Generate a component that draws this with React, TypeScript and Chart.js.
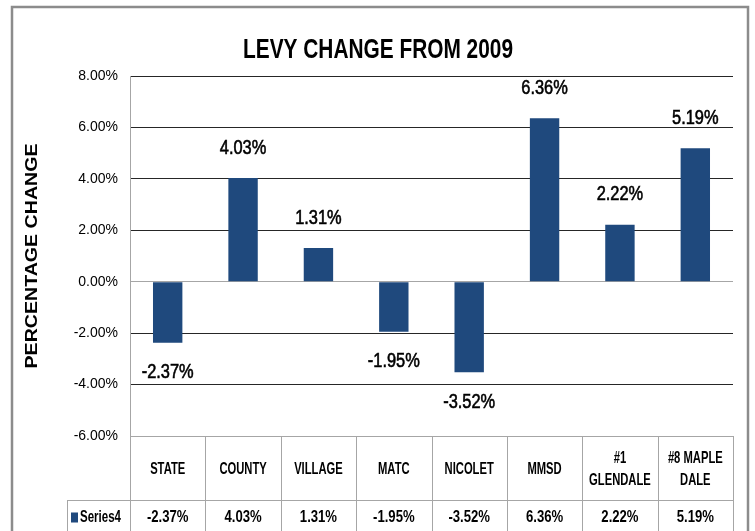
import React, { useEffect, useRef } from "react";
import { Chart, registerables } from "chart.js";

Chart.register(...registerables);

const chartTitle = "LEVY CHANGE FROM 2009";
const yAxisTitle = "PERCENTAGE CHANGE";
const seriesName = "Series4";
const categories: string[][] = [
  ["STATE"],
  ["COUNTY"],
  ["VILLAGE"],
  ["MATC"],
  ["NICOLET"],
  ["MMSD"],
  ["#1", "GLENDALE"],
  ["#8 MAPLE", "DALE"],
];
const values = [-2.37, 4.03, 1.31, -1.95, -3.52, 6.36, 2.22, 5.19];
const yTicks = [8, 6, 4, 2, 0, -2, -4, -6];

const BAR_COLOR = "#1f497d";
const FONT = "'Liberation Sans', Arial, sans-serif";

function drawText(
  ctx: CanvasRenderingContext2D,
  text: string,
  x: number,
  y: number,
  font: string,
  sx: number,
  align: CanvasTextAlign = "center",
  thicken = 0
) {
  ctx.save();
  ctx.font = font;
  ctx.fillStyle = "#000";
  ctx.strokeStyle = "#000";
  ctx.textBaseline = "middle";
  ctx.textAlign = align;
  ctx.translate(x, y);
  ctx.scale(sx, 1);
  ctx.fillText(text, 0, 0);
  if (thicken > 0) {
    ctx.lineWidth = thicken;
    ctx.strokeText(text, 0, 0);
  }
  ctx.restore();
}

const decorPlugin = {
  id: "decor",
  afterDraw(chart: any) {
    const ctx: CanvasRenderingContext2D = chart.ctx;
    const area = chart.chartArea;
    const W = chart.width;
    const H = chart.height;

    // outer frame
    ctx.save();
    ctx.strokeStyle = "#8c8c8c";
    ctx.lineWidth = 2.5;
    ctx.strokeRect(12, 7, W - 12 - 7, H + 20);
    ctx.restore();

    // title
    ctx.save();
    ctx.font = `bold 28px ${FONT}`;
    const tw = ctx.measureText(chartTitle).width;
    ctx.restore();
    drawText(ctx, chartTitle, 378, 50, `bold 28px ${FONT}`, 270 / tw);

    // y axis title
    ctx.save();
    ctx.translate(33, (area.top + area.bottom) / 2);
    ctx.rotate(-Math.PI / 2);
    ctx.font = `bold 16px ${FONT}`;
    const yw = ctx.measureText(yAxisTitle).width;
    ctx.scale(225 / yw, 1);
    ctx.fillStyle = "#000";
    ctx.textAlign = "center";
    ctx.textBaseline = "middle";
    ctx.fillText(yAxisTitle, 0, 0);
    ctx.restore();

    // data labels
    const meta = chart.getDatasetMeta(0);
    meta.data.forEach((bar: any, i: number) => {
      const v = values[i];
      const y = v >= 0 ? bar.y - 30 : bar.y + 30;
      drawText(ctx, `${v.toFixed(2)}%`, bar.x, y, `20px ${FONT}`, 0.82, "center", 0.6);
    });

    // data table
    const n = categories.length;
    const colW = (area.right - area.left) / n;
    const top = area.bottom;
    const rowDiv = top + 64;
    const bottom = H + 5;
    const legendLeft = 67;
    ctx.save();
    ctx.strokeStyle = "#a6a6a6";
    ctx.lineWidth = 1;
    ctx.beginPath();
    ctx.moveTo(legendLeft, Math.round(rowDiv) + 0.5);
    ctx.lineTo(area.right, Math.round(rowDiv) + 0.5);
    for (let i = 0; i <= n; i++) {
      const x = Math.round(area.left + i * colW) + 0.5;
      ctx.moveTo(x, top);
      ctx.lineTo(x, bottom);
    }
    ctx.moveTo(legendLeft + 0.5, rowDiv);
    ctx.lineTo(legendLeft + 0.5, bottom);
    ctx.stroke();
    ctx.restore();

    const catMid = (top + rowDiv) / 2 + 1;
    categories.forEach((lines, i) => {
      const cx = area.left + (i + 0.5) * colW;
      lines.forEach((ln, j) => {
        const y = catMid + (j - (lines.length - 1) / 2) * 22;
        drawText(ctx, ln, cx, y, `bold 17px ${FONT}`, 0.66);
      });
    });

    const valMid = rowDiv + 17.5;
    values.forEach((v, i) => {
      const cx = area.left + (i + 0.5) * colW;
      drawText(ctx, `${v.toFixed(2)}%`, cx, valMid, `bold 16px ${FONT}`, 0.82);
    });
    ctx.save();
    ctx.fillStyle = BAR_COLOR;
    ctx.fillRect(71, valMid - 5, 7, 10);
    ctx.restore();
    drawText(ctx, seriesName, 80, valMid, `bold 16px ${FONT}`, 0.72, "left");
  },
};

export default function App() {
  const ref = useRef<HTMLCanvasElement>(null);
  useEffect(() => {
    if (!ref.current) return;
    const chart = new Chart(ref.current, {
      type: "bar",
      data: {
        labels: categories.map((c) => c.join(" ")),
        datasets: [
          {
            label: seriesName,
            data: values,
            backgroundColor: BAR_COLOR,
            barPercentage: 0.39,
            categoryPercentage: 1,
          },
        ],
      },
      options: {
        animation: false,
        responsive: false,
        layout: { padding: { left: 0, right: 22, top: 76, bottom: 95 } },
        plugins: {
          legend: { display: false },
          tooltip: { enabled: false },
          title: { display: false },
        },
        scales: {
          x: { display: false },
          y: {
            min: -6,
            max: 8,
            afterBuildTicks: (scale: any) => {
              scale.ticks = yTicks.map((v) => ({ value: v }));
            },
            afterFit: (scale: any) => {
              scale.width = 130;
            },
            ticks: {
              callback: (v: any) => `${Number(v).toFixed(2)}%`,
              color: "#000",
              font: { family: FONT, size: 14 },
              padding: 12,
            },
            grid: {
              drawTicks: false,
              color: (c: any) =>
                c.tick && (c.tick.value === 0 || c.tick.value === -6) ? "#a6a6a6" : "#262626",
              lineWidth: 1,
            },
            border: { color: "#a6a6a6", width: 1 },
          },
        },
      },
      plugins: [decorPlugin],
    });
    return () => chart.destroy();
  }, []);
  return (
    <div style={{ position: "absolute", left: 0, top: 0, width: 755, height: 531, background: "#fff" }}>
      <canvas ref={ref} width={755} height={531} style={{ width: 755, height: 531, display: "block" }} />
    </div>
  );
}
